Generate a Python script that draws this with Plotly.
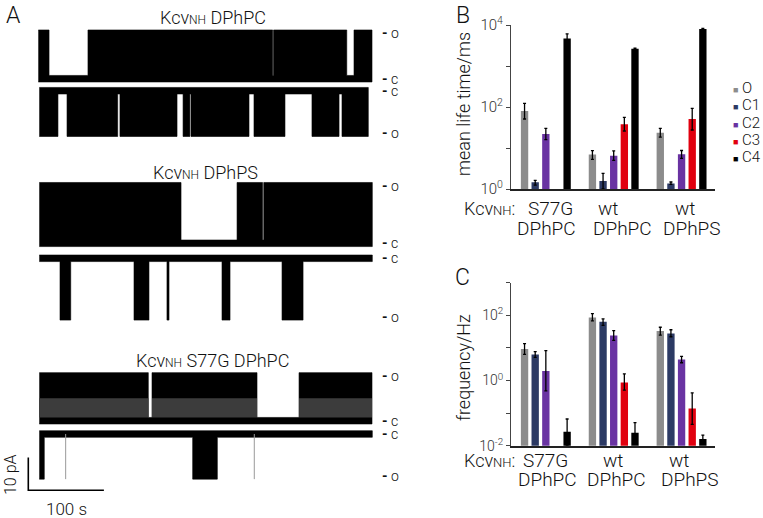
import plotly.graph_objects as go

W, H = 763, 518
FONT = "Roboto"

# ---------------- data: panel A (single-channel traces) ----------------
# segment edges in seconds, states per segment ('o' open / 'c' closed)
t1_edges = [0, 14.2, 65.7, 310.0, 311.2, 408.0, 417.6, 441.4]
t1_states = ['o', 'c', 'o', 'c', 'o', 'c', 'o']
t2_edges = [1.3, 26.0, 38.0, 105.0, 108.0, 183.5, 191.5, 200.5, 202.0, 278.7,
            285.3, 326.3, 362.0, 397.8, 401.7, 436.5]
t2_states = ['o', 'c', 'o', 'c', 'o', 'c', 'o', 'c', 'o', 'c', 'o', 'c', 'o', 'c', 'o']
t3_edges = [1.3, 188.8, 262.9, 296.6, 298.2, 441.8]
t3_states = ['o', 'c', 'o', 'c', 'o']
t4_edges = [1.3, 28.7, 42.9, 126.6, 146.4, 170.2, 172.9, 243.0, 253.6, 322.4, 350.2, 441.8]
t4_states = ['c', 'o', 'c', 'o', 'c', 'o', 'c', 'o', 'c', 'o', 'c']
t5_edges = [1.3, 145.5, 150.4, 289.3, 344.9, 441.4]
t5_states = ['o', 'c', 'o', 'c', 'o']
t6_edges = [1.3, 7.9, 204.2, 236.8, 441.8]
t6_states = ['o', 'c', 'o', 'c']
t6_spikes_s = [36.2, 285.7]
# open-channel current amplitudes (pA), sign = direction
amp_pA = [13.9, 13.0, 17.6, 17.9, 13.7, 12.8]
amp_sign = [1, -1, 1, -1, 1, -1]
noise_pA = 1.0
scale_t_s = 100
scale_i_pA = 10

# ---------------- data: panels B and C ----------------
groups = ["S77G", "wt", "wt"]
lipids = ["DPhPC", "DPhPC", "DPhPS"]
states = ["O", "C1", "C2", "C3", "C4"]
colors = ["#8c8c8c", "#2c3a64", "#6933a2", "#e1000f", "#000000"]

life_O = [80, 6.9, 23.7];       life_O_hi = [123, 8.6, 30];    life_O_lo = [51, 5.3, 18.5]
life_C1 = [1.46, 1.57, 1.37];   life_C1_hi = [1.63, 2.4, 1.48]; life_C1_lo = [1.25, 1.0, 1.3]
life_C2 = [22, 6.5, 7.0];       life_C2_hi = [30, 8.5, 8.7];   life_C2_lo = [16, 5.0, 5.6]
life_C3 = [None, 38, 51];       life_C3_hi = [None, 56, 93];   life_C3_lo = [None, 26, 27.5]
life_C4 = [4700, 2640, 8000];   life_C4_hi = [6100, 2720, 8250]; life_C4_lo = [3700, 2560, 7750]

freq_O = [9.3, 85, 33];         freq_O_hi = [13.5, 112, 43];   freq_O_lo = [6.3, 67, 24.5]
freq_C1 = [6.3, 63, 27.5];      freq_C1_hi = [7.7, 78, 36];    freq_C1_lo = [5.1, 49, 22]
freq_C2 = [1.94, 24, 4.4];      freq_C2_hi = [8.3, 34, 5.5];   freq_C2_lo = [0.48, 17, 3.5]
freq_C3 = [None, 0.87, 0.138];  freq_C3_hi = [None, 1.6, 0.42]; freq_C3_lo = [None, 0.51, 0.045]
freq_C4 = [0.027, 0.025, 0.016]; freq_C4_hi = [0.066, 0.051, 0.021]; freq_C4_lo = [0.01, 0.013, 0.013]

# ---------------- layout helpers ----------------
def px(x):
    return x / W

def py(y):
    return 1 - y / H

PX_PER_PA = 3.27
A_T_PER_PX = 100 / 75.6
A_X0 = 38.3  # pixel where t = 0

def ya(pix):  # pixel y -> panel A axis units (pA)
    return -pix / PX_PER_PA

# closed level pixel positions of the six traces (layout)
c_pix = [78.7, 90.7, 243.3, 258.3, 420.7, 434.0]

fig = go.Figure()

def trace_poly(edges, sts, c, amp, sign):
    xu, yu, yl = [], [], []
    for i, s in enumerate(sts):
        t0, t1 = edges[i], edges[i + 1]
        if s == 'o':
            if sign > 0:
                hi, lo = c + amp + noise_pA, c - noise_pA
            else:
                hi, lo = c + noise_pA, c - amp - noise_pA
        else:
            hi, lo = c + noise_pA, c - noise_pA
        xu += [t0, t1]
        yu += [hi, hi]
        yl += [lo, lo]
    return xu + xu[::-1], yu + yl[::-1]

all_edges = [t1_edges, t2_edges, t3_edges, t4_edges, t5_edges, t6_edges]
all_states = [t1_states, t2_states, t3_states, t4_states, t5_states, t6_states]
for k in range(6):
    c = ya(c_pix[k])
    xs, ys = trace_poly(all_edges[k], all_states[k], c, amp_pA[k], amp_sign[k])
    fig.add_trace(go.Scatter(x=xs, y=ys, fill="toself", fillcolor="black",
                             mode="lines", line=dict(width=0.6, color="black"),
                             xaxis="x", yaxis="y", showlegend=False, hoverinfo="skip"))

# flicker texture of the S77G open trace (lower part lighter)
c5 = ya(c_pix[4])
for i, s in enumerate(t5_states):
    if s == 'o':
        t0, t1 = t5_edges[i], t5_edges[i + 1]
        fig.add_trace(go.Scatter(x=[t0, t1, t1, t0],
                                 y=[c5 + 1.0, c5 + 1.0, c5 + 0.5 * amp_pA[4], c5 + 0.5 * amp_pA[4]],
                                 fill="toself", fillcolor="#3c3c3c", mode="lines",
                                 line=dict(width=0), xaxis="x", yaxis="y",
                                 showlegend=False, hoverinfo="skip"))

# spikes on trace 6
c6 = ya(c_pix[5])
for t in t6_spikes_s:
    fig.add_trace(go.Scatter(x=[t, t], y=[c6, c6 - amp_pA[5] - noise_pA], mode="lines",
                             line=dict(width=1, color="#9a9a9a"), xaxis="x", yaxis="y",
                             showlegend=False, hoverinfo="skip"))

# scale bar
sb_t0 = (28.3 - A_X0) * A_T_PER_PX
sb_y0 = ya(490.3)
fig.add_trace(go.Scatter(x=[sb_t0, sb_t0, sb_t0 + scale_t_s],
                         y=[sb_y0 + scale_i_pA, sb_y0, sb_y0], mode="lines",
                         line=dict(width=1.6, color="black"), xaxis="x", yaxis="y",
                         showlegend=False, hoverinfo="skip"))

# ---------------- panels B and C bars ----------------
life = [life_O, life_C1, life_C2, life_C3, life_C4]
life_hi = [life_O_hi, life_C1_hi, life_C2_hi, life_C3_hi, life_C4_hi]
life_lo = [life_O_lo, life_C1_lo, life_C2_lo, life_C3_lo, life_C4_lo]
freq = [freq_O, freq_C1, freq_C2, freq_C3, freq_C4]
freq_hi = [freq_O_hi, freq_C1_hi, freq_C2_hi, freq_C3_hi, freq_C4_hi]
freq_lo = [freq_O_lo, freq_C1_lo, freq_C2_lo, freq_C3_lo, freq_C4_lo]

def errs(v, hi, lo):
    up = [None if a is None else h - a for a, h in zip(v, hi)]
    dn = [None if a is None else a - l for a, l in zip(v, lo)]
    return up, dn

gx = list(range(len(groups)))
for si in range(len(states)):
    up, dn = errs(life[si], life_hi[si], life_lo[si])
    fig.add_trace(go.Bar(x=gx, y=life[si], name=states[si], marker_color=colors[si],
                         marker_line_width=0, xaxis="x2", yaxis="y2", showlegend=False,
                         offsetgroup=str(si),
                         error_y=dict(type="data", array=up, arrayminus=dn, symmetric=False,
                                      color="black", thickness=1.3, width=1.5)))
    up, dn = errs(freq[si], freq_hi[si], freq_lo[si])
    fig.add_trace(go.Bar(x=gx, y=freq[si], name=states[si], marker_color=colors[si],
                         marker_line_width=0, xaxis="x3", yaxis="y3", showlegend=False,
                         offsetgroup=str(si),
                         error_y=dict(type="data", array=up, arrayminus=dn, symmetric=False,
                                      color="black", thickness=1.3, width=1.5)))

xr = [-(545.7 - 511) / 67.6, 2 + (715 - 681.7) / 67.6]
sup = lambda e: f"10<sup>{e}</sup>"
fig.update_layout(
    width=W, height=H, margin=dict(l=0, r=0, t=0, b=0, autoexpand=False),
    paper_bgcolor="white", plot_bgcolor="white",
    font=dict(family=FONT, size=13, color="#222", weight=300),
    barmode="group", bargap=0.216, bargroupgap=0.31,
    xaxis=dict(domain=[0, px(373)], range=[(0 - A_X0) * A_T_PER_PX, (373 - A_X0) * A_T_PER_PX],
               visible=False, anchor="y"),
    yaxis=dict(domain=[0, 1], range=[-H / PX_PER_PA, 0], visible=False, anchor="x"),
    xaxis2=dict(domain=[px(511), px(715)], range=xr, showline=True, linecolor="#222", anchor="y2",
                linewidth=1.5, showticklabels=False, ticks="", showgrid=False, zeroline=False),
    yaxis2=dict(domain=[py(189), py(25)], type="log", range=[0, 4], showline=True, anchor="x2",
                linecolor="#444", linewidth=1.2, ticks="outside", ticklen=4, tickcolor="#444",
                tickvals=[1, 10, 100, 1000, 10000], automargin=False,
                ticktext=[sup(0), "", sup(2), "", sup(4)], showgrid=False, zeroline=False,
                tickfont=dict(size=15, color="#333")),
    xaxis3=dict(domain=[px(511), px(715)], range=xr, showline=True, linecolor="#222", anchor="y3",
                linewidth=1.5, showticklabels=False, ticks="", showgrid=False, zeroline=False),
    yaxis3=dict(domain=[py(445.7), py(282.7)], type="log", range=[-2, 3], showline=True, anchor="x3",
                linecolor="#444", linewidth=1.2, ticks="outside", ticklen=4, tickcolor="#444",
                tickvals=[0.01, 0.1, 1, 10, 100, 1000], automargin=False,
                ticktext=[sup(-2), "", sup(0), "", sup(2), ""], showgrid=False, zeroline=False,
                tickfont=dict(size=14, color="#333")),
)

ann = []
def A(text, x, y, size=17, xanchor="center", yanchor="middle", angle=0, color="#111", weight=300, yref="paper"):
    ann.append(dict(text=text, x=px(x), y=(py(y) if yref == "paper" else y), xref="paper", yref=yref,
                    showarrow=False, xanchor=xanchor, yanchor=yanchor, textangle=angle,
                    font=dict(family=FONT, size=size, color=color, weight=weight)))

kcv = "Kcv<span style='font-size:12px'>NH</span>"
A("A", 13, 15, size=23)
A("B", 463, 15, size=23)
A("C", 463, 277, size=23)
A(kcv + " DPhPC", 213, 17, size=18)
A(kcv + " DPhPS", 205, 172, size=18)
A(kcv + " S77G DPhPC", 213, 360, size=18)

# o / c level labels
for k in range(6):
    c = ya(c_pix[k])
    o = c + amp_sign[k] * amp_pA[k]
    A("<b>-</b> c", 380, c, size=14, xanchor="left", yref="y")
    A("<b>-</b> o", 380, o, size=14, xanchor="left", yref="y")

A("10 pA", 10, 475, size=16, angle=-90)
A("100 s", 66, 509, size=17)

# axis titles
A("mean life time/ms", 463, 104, size=18, angle=-90)
A("frequency/Hz", 463, 367, size=18, angle=-90)

# category labels
kcvc = "Kcv<span style='font-size:13px'>NH</span>:"
for ybase, (xg, xl) in [(0, ([550, 608, 685], [546, 622, 692])), (251, ([545, 613, 679], [547, 616, 690]))]:
    A(kcvc, 489, 209 + ybase, size=18)
    for g in range(3):
        A(groups[g], xg[g], 209 + ybase, size=19)
        A(lipids[g], xl[g], 228 + ybase, size=19)

# legend
for si in range(len(states)):
    A(f"<span style='color:{colors[si]};font-size:9px'>■</span> {states[si]}", 731, 88.3 + si * 17.1,
      size=15, xanchor="left")

fig.update_layout(annotations=ann)
fig.write_html("out.html", config={"displayModeBar": False},
               post_script="document.body.style.margin='0';")
